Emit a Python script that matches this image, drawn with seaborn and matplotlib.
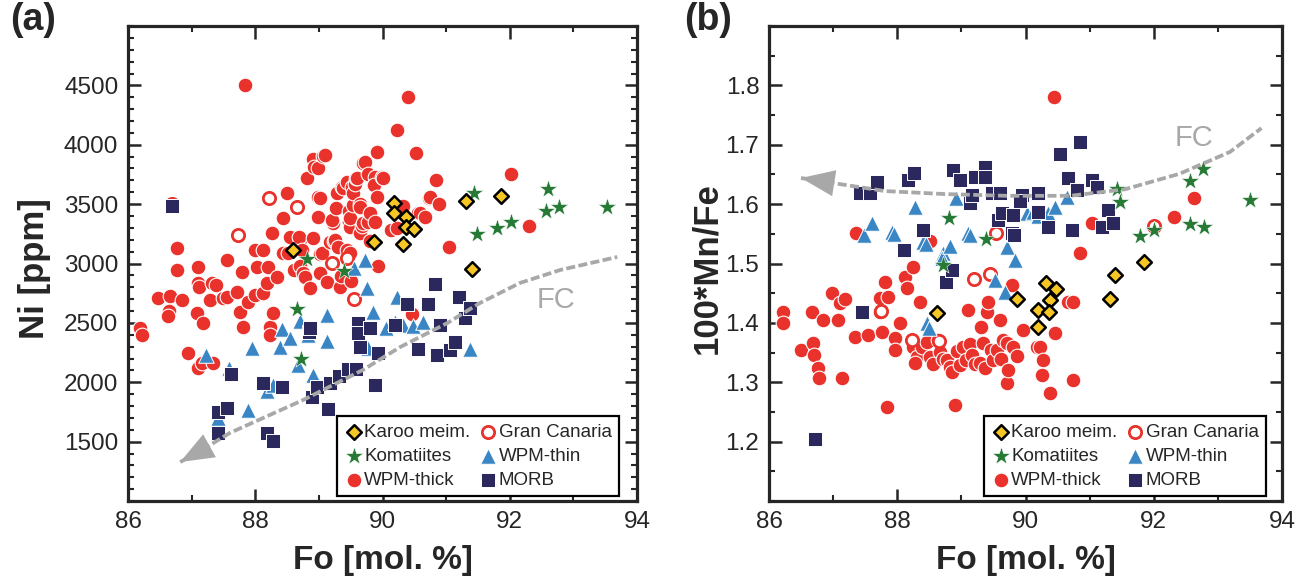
import numpy as np
import matplotlib
matplotlib.use("Agg")
import matplotlib.pyplot as plt
from matplotlib.ticker import MultipleLocator
import seaborn as sns

# --------------------------
# Data (a): Ni vs Fo
# --------------------------
karoo_fo_a = [88.60, 89.87, 90.18, 90.18, 90.37, 90.37, 90.50, 90.32, 91.32, 91.87, 91.41]
karoo_ni = [3115, 3180, 3512, 3425, 3392, 3310, 3292, 3162, 3525, 3570, 2950]

koma_fo_a = [88.81, 89.40, 88.66, 88.72, 91.44, 91.49, 91.80, 92.02, 92.60, 92.57, 92.78, 93.53]
koma_ni = [3035, 2940, 2617, 2192, 3594, 3247, 3300, 3350, 3627, 3445, 3474, 3474]

gc_fo_a = [86.69, 88.22, 88.66, 87.73, 89.21, 89.44, 89.55]
gc_ni = [3505, 3550, 3475, 3240, 3002, 3045, 2705]

thin_fo_a = [87.23, 87.59, 87.41, 87.89, 87.95, 88.19, 88.28, 88.42, 88.39, 88.55,
             88.70, 88.83, 88.91, 88.67, 89.13, 89.13, 89.55, 89.72, 89.76, 89.85,
             89.77, 90.23, 90.06, 90.20, 90.32, 90.48, 90.64, 91.37]
thin_ni = [2229, 2118, 1700, 1766, 2290, 1925, 1975, 2445, 2297, 2370,
           2520, 2400, 2058, 2145, 2570, 2350, 2960, 3030, 2790, 2595,
           2290, 2720, 2460, 2505, 2480, 2470, 2505, 2278]

thick_fo_a = [86.19, 86.22, 86.47, 86.66, 86.64, 86.63, 86.77, 86.77, 86.85, 86.94,
              87.08, 87.10, 87.16, 87.34, 87.18, 87.10, 87.10, 87.12, 87.29, 87.32,
              87.39, 87.49, 87.55, 87.56, 87.71, 87.76, 87.81, 87.79, 87.84, 87.89,
              88.00, 88.00, 88.03, 88.12, 88.12, 88.19, 88.20, 88.26, 88.23, 88.23,
              88.28, 88.34, 88.44, 88.44, 88.50, 88.52, 88.55, 88.61, 88.70, 88.68,
              88.71, 88.73, 88.75, 88.78, 88.81, 88.86, 88.91, 88.91, 88.93, 88.99,
              88.99, 88.99, 89.01, 89.02, 89.02, 89.05, 89.07, 89.10, 89.13, 89.18,
              89.22, 89.21, 89.24, 89.25, 89.29, 89.27, 89.30, 89.33, 89.34, 89.37,
              89.38, 89.44, 89.44, 89.47, 89.47, 89.49, 89.49, 89.49, 89.50, 89.52,
              89.54, 89.54, 89.57, 89.58, 89.60, 89.64, 89.65, 89.65, 89.67, 89.69,
              89.70, 89.73, 89.77, 89.77, 89.80, 89.80, 89.88, 89.88, 89.87, 89.91,
              89.91, 89.93, 89.99, 90.00, 90.13, 90.23, 90.23, 90.33, 90.40, 90.46,
              90.53, 90.56, 90.59, 90.67, 90.73, 90.75, 90.84, 90.89, 91.05, 92.02,
              92.31]
thick_ni = [2457, 2400, 2709, 2727, 2603, 2556, 3130, 2945, 2692, 2246,
            2583, 2120, 2160, 2162, 2499, 2970, 2836, 2804, 2692, 2836,
            2820, 2711, 3029, 2718, 2760, 2591, 2465, 2928, 4505, 2676,
            2734, 3113, 2970, 2751, 3110, 2836, 2970, 3257, 2465, 2398,
            2583, 2886, 3383, 3088, 3593, 3088, 3223, 2944, 3197, 3223,
            2975, 3113, 2920, 2886, 3720, 2793, 3880, 3214, 3812, 3804,
            3391, 3560, 3083, 3551, 2920, 3088, 3905, 3913, 2844, 3181,
            3341, 3366, 3192, 3197, 3593, 3471, 3139, 2802, 2897, 3641,
            3635, 3688, 3113, 3440, 3347, 3307, 3088, 3383, 2851, 3644,
            3492, 3595, 3672, 3720, 3719, 3502, 3476, 3257, 3316, 3341,
            3843, 3854, 3750, 3347, 3425, 3192, 3728, 3349, 3657, 3939,
            3560, 2975, 3728, 3719, 3285, 4124, 3299, 3486, 4400, 2572,
            3930, 3424, 3425, 3391, 3548, 3560, 3703, 3502, 3139, 3750,
            3316]

morb_fo_a = [86.69, 87.42, 87.56, 87.42, 87.62, 88.12, 88.42, 88.19, 88.28, 88.84,
             88.86, 88.89, 88.97, 89.14, 89.18, 89.32, 89.46, 89.58, 89.62, 89.62,
             89.65, 89.93, 89.88, 89.80, 90.20, 90.38, 90.56, 90.72, 90.83, 90.86,
             90.91, 91.06, 91.14, 91.20, 91.30, 91.38]
morb_ni = [3480, 1750, 1783, 1570, 2070, 1994, 1960, 1573, 1505, 2420,
           2460, 1876, 1960, 1775, 1994, 2055, 2115, 2110, 2495, 2415,
           2300, 2246, 1980, 2460, 2480, 2660, 2280, 2660, 2830, 2230,
           2480, 2270, 2340, 2720, 2545, 2625]

fc_fo_a = [86.82, 87.16, 87.60, 88.75, 89.69, 90.28, 91.02, 91.53, 92.16, 92.79, 93.69]
fc_ni = [1328, 1429, 1573, 1850, 2103, 2297, 2499, 2667, 2836, 2945, 3055]

# --------------------------
# Data (b): 100*Mn/Fe vs Fo
# --------------------------
karoo_fo_b = [88.62, 89.87, 90.32, 90.47, 90.38, 90.19, 90.36, 90.20, 91.39, 91.31, 91.85]
karoo_mnfe = [1.416, 1.440, 1.468, 1.457, 1.438, 1.421, 1.418, 1.393, 1.480, 1.441, 1.502]

koma_fo_b = [88.72, 88.80, 89.39, 91.43, 91.47, 91.79, 92.01, 92.56, 92.77, 92.57, 92.79, 93.50]
koma_mnfe = [1.498, 1.577, 1.541, 1.625, 1.603, 1.546, 1.557, 1.639, 1.659, 1.566, 1.562, 1.607]

gc_fo_b = [89.54, 89.19, 89.44, 87.75, 88.23, 88.65, 92.01]
gc_mnfe = [1.551, 1.474, 1.482, 1.420, 1.371, 1.369, 1.563]

thin_fo_b = [87.48, 87.61, 87.92, 87.95, 88.28, 88.40, 88.45, 88.46, 88.50, 88.71,
             88.70, 88.82, 88.92, 89.10, 89.14, 89.53, 89.68, 89.71, 89.84, 90.02,
             90.12, 90.20, 90.35, 90.46, 90.65]
thin_mnfe = [1.548, 1.568, 1.553, 1.550, 1.595, 1.536, 1.533, 1.400, 1.392, 1.518,
             1.510, 1.530, 1.610, 1.551, 1.548, 1.472, 1.452, 1.528, 1.506, 1.585,
             1.587, 1.580, 1.585, 1.595, 1.612]

thick_fo_b = [86.22, 86.22, 86.50, 86.67, 86.69, 86.70, 86.76, 86.78, 86.84, 86.98,
              87.08, 87.11, 87.14, 87.19, 87.34, 87.35, 87.54, 87.73, 87.73, 87.76,
              87.81, 87.84, 87.86, 87.97, 87.97, 88.04, 88.12, 88.15, 88.25, 88.25,
              88.31, 88.28, 88.36, 88.39, 88.46, 88.51, 88.51, 88.55, 88.64, 88.67,
              88.72, 88.78, 88.82, 88.86, 88.90, 88.93, 88.98, 89.03, 89.07, 89.10,
              89.14, 89.17, 89.22, 89.29, 89.31, 89.34, 89.37, 89.40, 89.42, 89.46,
              89.50, 89.56, 89.60, 89.62, 89.65, 89.71, 89.71, 89.73, 89.79, 89.81,
              89.87, 89.96, 90.18, 90.22, 90.27, 90.26, 90.38, 90.45, 90.46, 90.66,
              90.74, 90.74, 90.85, 91.04, 92.31, 92.62]
thick_mnfe = [1.418, 1.400, 1.354, 1.418, 1.366, 1.346, 1.324, 1.307, 1.405, 1.450,
              1.405, 1.433, 1.307, 1.440, 1.376, 1.552, 1.380, 1.418, 1.442, 1.385,
              1.469, 1.258, 1.444, 1.375, 1.354, 1.400, 1.477, 1.459, 1.494, 1.359,
              1.342, 1.332, 1.435, 1.359, 1.368, 1.342, 1.538, 1.330, 1.371, 1.351,
              1.340, 1.337, 1.326, 1.318, 1.262, 1.352, 1.329, 1.359, 1.338, 1.422,
              1.365, 1.346, 1.330, 1.332, 1.393, 1.366, 1.324, 1.418, 1.435, 1.355,
              1.337, 1.354, 1.405, 1.340, 1.372, 1.366, 1.299, 1.321, 1.464, 1.359,
              1.345, 1.388, 1.359, 1.359, 1.337, 1.312, 1.282, 1.780, 1.383, 1.435,
              1.435, 1.304, 1.518, 1.568, 1.579, 1.610]

morb_fo_b = [86.72, 87.45, 87.42, 87.58, 87.68, 88.17, 88.26, 88.40, 88.11, 88.76,
             88.85, 88.87, 88.98, 89.14, 89.16, 89.21, 89.37, 89.37, 89.48, 89.60,
             89.57, 89.63, 89.81, 89.79, 89.82, 89.95, 89.92, 90.20, 90.20, 90.35,
             90.54, 90.66, 90.80, 90.85, 90.73, 91.04, 91.12, 91.20, 91.28, 91.37]
morb_mnfe = [1.204, 1.419, 1.619, 1.619, 1.637, 1.641, 1.652, 1.556, 1.523, 1.469,
             1.489, 1.657, 1.641, 1.602, 1.615, 1.646, 1.663, 1.646, 1.619, 1.619,
             1.573, 1.585, 1.582, 1.551, 1.548, 1.615, 1.605, 1.619, 1.587, 1.561,
             1.684, 1.644, 1.624, 1.705, 1.556, 1.640, 1.629, 1.561, 1.590, 1.568]

fc_fo_b = [86.50, 86.97, 87.81, 88.73, 89.71, 90.70, 91.55, 92.40, 93.19, 93.68]
fc_mnfe = [1.644, 1.636, 1.622, 1.617, 1.614, 1.614, 1.625, 1.651, 1.688, 1.728]

# --------------------------
# Styles
# --------------------------
RED = "#e8322b"
GRAY = "#a8a8a8"
styles = {
    "WPM-thick": dict(marker="o", color=RED, edgecolor="white", s=112, linewidth=0.8, zorder=2),
    "Gran Canaria": dict(marker="o", color="white", edgecolor=RED, s=78, linewidth=2.0, zorder=3),
    "WPM-thin": dict(marker="^", color="#3a86c4", edgecolor="white", s=125, linewidth=0.7, zorder=4),
    "MORB": dict(marker="s", color="#2b285e", edgecolor="white", s=112, linewidth=0.7, zorder=5),
    "Komatiites": dict(marker="*", color="#267a35", edgecolor="white", s=185, linewidth=0.4, zorder=6),
    "Karoo meim.": dict(marker="D", color="#f6c624", edgecolor="black", s=56, linewidth=1.8, zorder=7),
}
legend_order = ["Karoo meim.", "Komatiites", "WPM-thick", "Gran Canaria", "WPM-thin", "MORB"]

sns.set_style("ticks")
plt.rcParams["font.family"] = ["Liberation Sans", "DejaVu Sans"]

fig = plt.figure(figsize=(13.06, 5.78), dpi=100)
ax_a = fig.add_axes([128 / 1306, 77 / 578, 509 / 1306, 475 / 578])
ax_b = fig.add_axes([769 / 1306, 77 / 578, 513 / 1306, 475 / 578])


def draw_panel(ax, groups, fc_x, fc_y, anchor_x):
    handles = {}
    for name, (xs, ys) in groups.items():
        sns.scatterplot(x=xs, y=ys, ax=ax, label=name, **styles[name])
        handles[name] = ax.collections[-1]
    # FC trend line
    sns.lineplot(x=fc_x, y=fc_y, ax=ax, color=GRAY, linewidth=2.7,
                 dashes=False, estimator=None, sort=False, zorder=8)
    ax.lines[-1].set_dashes((2.4, 0.9))
    ax.annotate("", xy=(fc_x[0], fc_y[0]), xytext=(fc_x[1], fc_y[1]),
                arrowprops=dict(arrowstyle="-|>,head_length=1.15,head_width=0.45",
                                mutation_scale=21, color=GRAY, lw=0,
                                shrinkA=0, shrinkB=0), zorder=9)
    leg = ax.legend([handles[n] for n in legend_order], legend_order, ncol=2,
                    loc="lower right", bbox_to_anchor=(anchor_x, 0.01), fontsize=13.5,
                    frameon=True, fancybox=False, framealpha=1, edgecolor="black",
                    handletextpad=0.05, handlelength=1.0, columnspacing=0.45,
                    labelspacing=0.36, borderpad=0.4, borderaxespad=0)
    leg.get_frame().set_linewidth(1.6)

    ax.set_xlim(86, 94)
    ax.xaxis.set_major_locator(MultipleLocator(2))
    ax.xaxis.set_minor_locator(MultipleLocator(1))
    ax.tick_params(which="both", direction="in", top=True, right=True,
                   labelsize=17.5, pad=7)
    ax.tick_params(which="major", length=9, width=1.8)
    ax.tick_params(which="minor", length=4.5, width=1.5)
    for sp in ax.spines.values():
        sp.set_linewidth(2.3)
    ax.set_xlabel("Fo [mol. %]", fontsize=24, fontweight="bold")
    ax.xaxis.set_label_coords(0.5, -0.092)


draw_panel(ax_a, {
    "WPM-thick": (thick_fo_a, thick_ni),
    "Gran Canaria": (gc_fo_a, gc_ni),
    "WPM-thin": (thin_fo_a, thin_ni),
    "MORB": (morb_fo_a, morb_ni),
    "Komatiites": (koma_fo_a, koma_ni),
    "Karoo meim.": (karoo_fo_a, karoo_ni),
}, fc_fo_a, fc_ni, 0.965)
ax_a.set_ylim(1000, 5000)
ax_a.set_yticks([1500, 2000, 2500, 3000, 3500, 4000, 4500])
ax_a.yaxis.set_minor_locator(MultipleLocator(100))
ax_a.set_ylabel("Ni [ppm]", fontsize=25, fontweight="bold")
ax_a.yaxis.set_label_coords(-0.152, 0.49)
ax_a.text(92.72, 2690, "FC", color=GRAY, fontsize=21, ha="center", va="center")

draw_panel(ax_b, {
    "WPM-thick": (thick_fo_b, thick_mnfe),
    "Gran Canaria": (gc_fo_b, gc_mnfe),
    "WPM-thin": (thin_fo_b, thin_mnfe),
    "MORB": (morb_fo_b, morb_mnfe),
    "Komatiites": (koma_fo_b, koma_mnfe),
    "Karoo meim.": (karoo_fo_b, karoo_mnfe),
}, fc_fo_b, fc_mnfe, 0.969)
ax_b.set_ylim(1.1, 1.9)
ax_b.set_yticks([1.2, 1.3, 1.4, 1.5, 1.6, 1.7, 1.8])
ax_b.yaxis.set_minor_locator(MultipleLocator(0.05))
ax_b.set_ylabel("100*Mn/Fe", fontsize=25, fontweight="bold")
ax_b.yaxis.set_label_coords(-0.09, 0.49)
ax_b.text(92.62, 1.712, "FC", color=GRAY, fontsize=21, ha="center", va="center")

fig.text(10 / 1306, 1 - 2 / 578, "(a)", fontsize=27, fontweight="bold", ha="left", va="top")
fig.text(684 / 1306, 1 - 2 / 578, "(b)", fontsize=27, fontweight="bold", ha="left", va="top")

fig.savefig("out.png", dpi=100, facecolor="white")
